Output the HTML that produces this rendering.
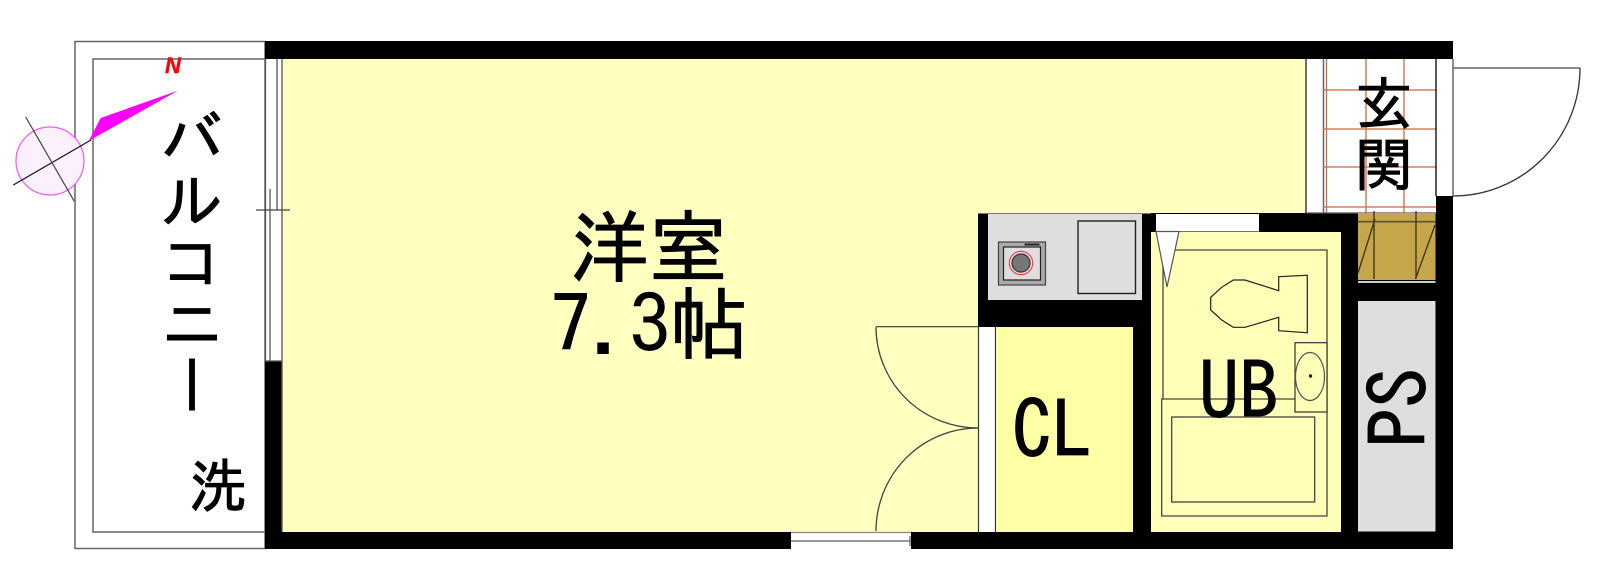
<!DOCTYPE html>
<html><head><meta charset="utf-8"><style>
html,body{margin:0;padding:0;background:#fff;width:1600px;height:586px;overflow:hidden}
svg{display:block}
text{font-family:"IPAGothic","Liberation Sans","Noto Sans CJK JP",sans-serif;fill:#000;stroke:#000;stroke-width:.9}
</style></head><body>
<svg width="1600" height="586" viewBox="0 0 1600 586" xmlns="http://www.w3.org/2000/svg">
<rect x="75" y="41.5" width="190" height="507" fill="#fff" stroke="#666" stroke-width="1.5"/>
<rect x="93" y="59" width="172" height="473" fill="#fff" stroke="#666" stroke-width="1.5"/>
<rect x="265" y="41" width="1188" height="508" fill="#000"/>
<rect x="282" y="59" width="1024" height="473" fill="#ffffc0"/>
<rect x="978" y="213" width="380" height="319" fill="#000"/>
<rect x="265" y="59" width="17" height="302" fill="#fff"/>
<path d="M265.5 59V361M277 59V210M270 189V361M282 59V532M265 361H282" stroke="#555" stroke-width="1.3" fill="none"/>
<path d="M256 210H290" stroke="#444" stroke-width="1.2"/>
<rect x="1306" y="59" width="17" height="154" fill="#fff"/>
<rect x="1323" y="59" width="113" height="154" fill="#fff"/>
<path d="M1306 59V213" stroke="#222" stroke-width="1.3"/>
<path d="M1323.5 59V213" stroke="#666" stroke-width="1.5"/>
<path d="M1326.5 59V213M1366 59V213M1404 59V213M1323 90H1436M1323 129H1436M1323 167H1436M1323 207H1436" stroke="#cf6a3a" stroke-width="1.3" fill="none"/>
<rect x="1436" y="59" width="17" height="137" fill="#fff"/>
<path d="M1436 59V196" stroke="#000" stroke-width="1.3"/>
<path d="M1453 59V196" stroke="#444" stroke-width="1.2"/>
<path d="M1306 213H1436" stroke="#555" stroke-width="1.2"/>
<path d="M1453 68H1580" stroke="#666" stroke-width="1.6"/>
<path d="M1580 68A127 128 0 0 1 1453 196" fill="none" stroke="#333" stroke-width="1.3"/>
<rect x="988" y="214" width="154" height="86" fill="#dedede"/>
<path d="M978 213.5H1151" stroke="#777" stroke-width="1"/>
<rect x="1078" y="221" width="57.5" height="72.5" fill="none" stroke="#222" stroke-width="1.4"/>
<rect x="998.5" y="242" width="47" height="43" fill="#aaa" stroke="#444" stroke-width="1.2"/>
<rect x="1003.5" y="247" width="37" height="33" fill="#dedede" stroke="#222" stroke-width="1.2"/>
<rect x="1024.5" y="243.5" width="15" height="2" fill="#222"/>
<circle cx="1021" cy="263" r="11.7" fill="none" stroke="#f33" stroke-width="1.1"/>
<circle cx="1021" cy="263" r="9" fill="#777" stroke="#333" stroke-width="1.2"/>
<rect x="979" y="327" width="17" height="205" fill="#fff"/>
<path d="M978.5 327V532M995.5 327V532" stroke="#333" stroke-width="1.2"/>
<rect x="996" y="327" width="137" height="205" fill="#ffffa5"/>
<path d="M876 326.7H978" stroke="#333" stroke-width="1.2"/>
<path d="M876 327A102 101 0 0 0 978 428" fill="none" stroke="#444" stroke-width="1.3"/>
<path d="M876 531A102 103 0 0 1 978 428" fill="none" stroke="#444" stroke-width="1.3"/>
<rect x="1151" y="232" width="190" height="300" fill="#ffffb8"/>
<rect x="1156" y="214" width="103" height="17.5" fill="#fff"/>
<path d="M1156 231.5H1259" stroke="#777" stroke-width="1"/>
<path d="M1163 250H1327V516H1161.7V399H1295M1163 250V399" fill="none" stroke="#444" stroke-width="1.3"/>
<path d="M1156 231.5L1179 231.5L1167 287Z" fill="#fff" stroke="#555" stroke-width="1.2"/>
<rect x="1171.7" y="417" width="143" height="85" fill="none" stroke="#444" stroke-width="1.3"/>
<rect x="1295" y="342.7" width="32" height="69.3" fill="#ffffb8" stroke="#333" stroke-width="1.2"/>
<ellipse cx="1310" cy="376.5" rx="14.5" ry="24" fill="none" stroke="#555" stroke-width="1.2"/>
<circle cx="1310.5" cy="376" r="1.7" fill="#222"/>
<path d="M1278.7 276.7L1307.3 275.3V332.7L1278.7 330.7V317.3L1245 327.3H1233.3L1221.7 320L1210.7 310V297.3L1221.7 287.3L1233.3 280H1245L1278.7 290.7Z" fill="none" stroke="#222" stroke-width="1.2"/>
<rect x="1358" y="213" width="77.5" height="67" fill="#c6a64a"/>
<path d="M1358 221.7H1435.5" stroke="#5f5228" stroke-width="1.6"/>
<path d="M1374 211V279M1358 273L1375 219M1416 211V279M1415.5 279L1435 225" stroke="#3a3218" stroke-width="1.3" fill="none"/>
<rect x="1358" y="281" width="77.5" height="2" fill="#ccc"/>
<rect x="1358" y="301" width="77.5" height="230.5" fill="#dedede"/>
<rect x="791" y="533" width="120" height="16" fill="#fff"/>
<path d="M791 532.5H911" stroke="#888" stroke-width="1.2"/>
<path d="M791 541H910" stroke="#777" stroke-width="1.6"/>
<path d="M910 536V546" stroke="#555" stroke-width="1.2"/>
<circle cx="50" cy="161" r="34" fill="#fdf0fd" stroke="#f659f6" stroke-width="1.2"/>
<path d="M13.3 185L91 140" stroke="#111" stroke-width="1.2"/>
<path d="M25.7 117L74.3 201.3" stroke="#444" stroke-width="1.2"/>
<path d="M177.7 90.7L100.7 118L88.7 141Z" fill="#f0f"/>
<text x="165" y="73" style="font-family:'Liberation Sans',sans-serif;font-weight:bold;font-style:italic;fill:#f00;stroke:#f00;stroke-width:.4" font-size="22">N</text>
<text x="192" y="106" font-size="62" style="writing-mode:vertical-rl">バルコニー</text>
<text x="189" y="507" font-size="58">洗</text>
<text x="570" y="276" font-size="79">洋室</text>
<text x="551" y="353" font-size="79">7.3帖</text>
<text x="1012" y="459" font-size="80">CL</text>
<text x="1199" y="420" font-size="80">UB</text>
<text x="1355" y="125" font-size="58">玄</text>
<text x="1355" y="186" font-size="58">関</text>
<text transform="translate(1428 448) rotate(-90)" font-size="80">PS</text>
</svg>
</body></html>
